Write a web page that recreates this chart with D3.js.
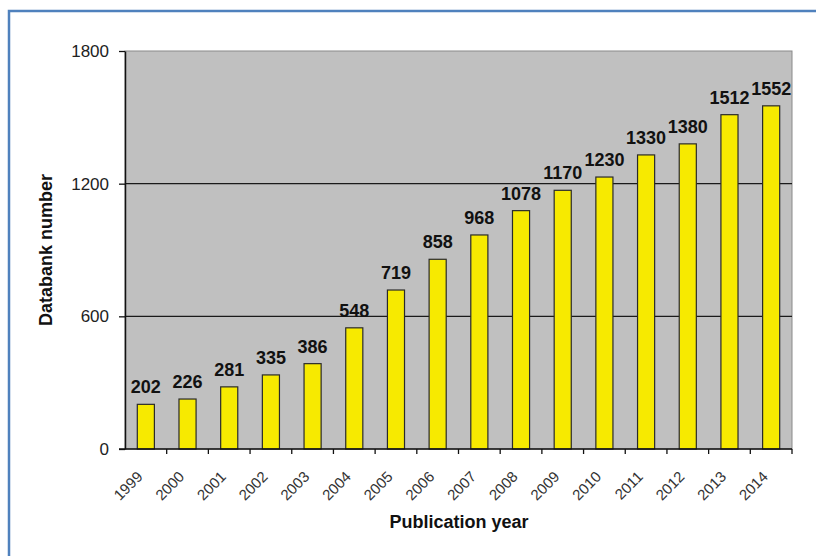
<!DOCTYPE html>
<html lang="en">
<head>
    <meta charset="UTF-8">
    <title>Databank number by publication year</title>
    <script src="https://d3js.org/d3.v7.min.js"></script>
    <style>
        body { margin: 0; background: #fff; }
        text { font-family: "Liberation Sans", Arial, sans-serif; }
    </style>
</head>
<body>
    <div id="chart"></div>

    <script>
        // data
        const years = ["1999", "2000", "2001", "2002", "2003", "2004", "2005", "2006",
                       "2007", "2008", "2009", "2010", "2011", "2012", "2013", "2014"];
        const counts = [202, 226, 281, 335, 386, 548, 719, 858, 968, 1078, 1170, 1230, 1330, 1380, 1512, 1552];
        const yTicks = [0, 600, 1200, 1800];

        const width = 816;
        const height = 556;
        const margin = { top: 51, right: 24, bottom: 107, left: 125 };

        const svg = d3.select("#chart")
            .append("svg")
            .attr("width", width)
            .attr("height", height);

        // blue frame
        svg.append("rect")
            .attr("x", 9).attr("y", 11)
            .attr("width", width + 20).attr("height", height + 20)
            .attr("fill", "none")
            .attr("stroke", "#4f81bd")
            .attr("stroke-width", 2.5);

        const x = d3.scaleBand()
            .domain(years)
            .range([margin.left, width - margin.right])
            .paddingInner(0.59)
            .paddingOuter(0.295);

        const xb = d3.scaleBand()
            .domain(years)
            .range([margin.left, width - margin.right]);

        const y = d3.scaleLinear()
            .domain([0, 1800])
            .range([height - margin.bottom, margin.top]);

        // plot area
        svg.append("rect")
            .attr("x", margin.left)
            .attr("y", margin.top)
            .attr("width", width - margin.left - margin.right)
            .attr("height", y(0) - margin.top)
            .attr("fill", "#c0c0c0")
            .attr("stroke", "#8a8a8a")
            .attr("stroke-width", 1);

        // gridlines
        svg.append("g")
            .selectAll("line")
            .data(yTicks.filter(d => d > 0 && d < 1800))
            .join("line")
            .attr("x1", margin.left)
            .attr("x2", width - margin.right)
            .attr("y1", d => y(d))
            .attr("y2", d => y(d))
            .attr("stroke", "#1a1a1a")
            .attr("stroke-width", 1.2);

        // bars
        svg.append("g")
            .selectAll("rect")
            .data(counts)
            .join("rect")
            .attr("x", (d, i) => x(years[i]))
            .attr("y", d => y(d))
            .attr("width", x.bandwidth())
            .attr("height", d => y(0) - y(d))
            .attr("fill", "#f7ea00")
            .attr("stroke", "#2a2a2a")
            .attr("stroke-width", 1.2);

        // value labels
        svg.append("g")
            .selectAll("text")
            .data(counts)
            .join("text")
            .attr("x", (d, i) => x(years[i]) + x.bandwidth() / 2)
            .attr("y", d => y(d) - 11)
            .attr("text-anchor", "middle")
            .attr("font-size", 18)
            .attr("font-weight", "bold")
            .attr("fill", "#111")
            .text(d => d);

        // y axis
        const yAxis = svg.append("g")
            .attr("transform", `translate(${margin.left},0)`)
            .call(d3.axisLeft(y).tickValues(yTicks).tickFormat(d3.format("d"))
                .tickSize(6).tickPadding(10).tickSizeOuter(0));
        yAxis.select(".domain").attr("stroke", "#111").attr("stroke-width", 1.5);
        yAxis.selectAll(".tick line").attr("stroke", "#111").attr("stroke-width", 1.3);
        yAxis.selectAll(".tick text")
            .attr("font-size", 17)
            .attr("fill", "#222")
            .style("font-family", "'Liberation Sans', Arial, sans-serif");

        // x axis - ticks on band boundaries
        const xAxis = svg.append("g")
            .attr("transform", `translate(0,${y(0)})`);
        xAxis.append("line")
            .attr("x1", margin.left - 6)
            .attr("x2", width - margin.right)
            .attr("stroke", "#111")
            .attr("stroke-width", 1.5);
        xAxis.selectAll(".bt")
            .data(years)
            .join("line")
            .attr("class", "bt")
            .attr("x1", d => xb(d) + xb.bandwidth())
            .attr("x2", d => xb(d) + xb.bandwidth())
            .attr("y1", 0)
            .attr("y2", 5)
            .attr("stroke", "#111")
            .attr("stroke-width", 1.3);
        xAxis.selectAll(".yl")
            .data(years)
            .join("text")
            .attr("class", "yl")
            .attr("transform", d => `translate(${xb(d) + xb.bandwidth() / 2 - 6},${25}) rotate(-45)`)
            .attr("text-anchor", "end")
            .attr("dy", "0.35em")
            .attr("font-size", 15)
            .attr("fill", "#333")
            .text(d => d);

        // axis titles
        svg.append("text")
            .attr("x", 459)
            .attr("y", 528)
            .attr("text-anchor", "middle")
            .attr("font-size", 18)
            .attr("font-weight", "bold")
            .attr("fill", "#111")
            .text("Publication year");

        svg.append("text")
            .attr("transform", `translate(52,250) rotate(-90)`)
            .attr("text-anchor", "middle")
            .attr("font-size", 18)
            .attr("font-weight", "bold")
            .attr("fill", "#111")
            .text("Databank number");
    </script>
</body>
</html>
